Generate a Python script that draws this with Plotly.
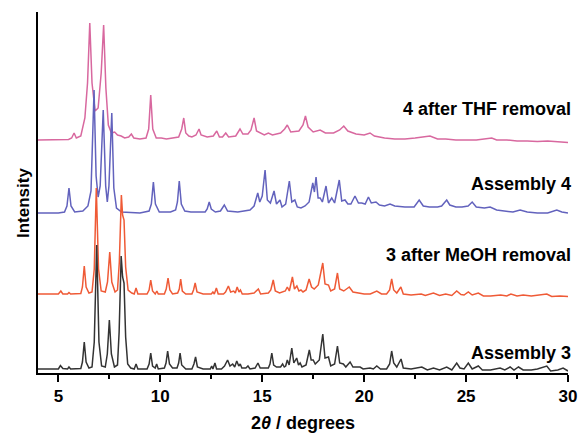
import plotly.graph_objects as go

# ---------------- data: (2theta, intensity a.u.) ----------------
assembly3 = [
    (4.0, 3), (5.0, 3), (5.1, 6.5), (5.22, 3.5), (5.45, 3), (5.52, 5), (5.6, 3),
    (6.1, 3.5), (6.18, 10), (6.27, 30), (6.36, 10), (6.5, 4),
    (6.65, 5), (6.76, 30), (6.88, 127), (6.99, 30), (7.12, 6),
    (7.3, 5), (7.4, 18), (7.5, 52), (7.6, 18), (7.75, 5),
    (7.9, 7), (7.98, 40), (8.08, 116), (8.15, 95), (8.22, 89), (8.3, 35), (8.4, 8), (8.55, 4),
    (8.72, 3), (8.81, 8), (8.9, 3),
    (9.35, 3), (9.45, 8), (9.53, 19), (9.62, 6), (9.75, 4), (9.82, 8), (9.9, 3),
    (10.2, 4), (10.28, 9), (10.36, 21), (10.45, 8), (10.6, 4),
    (10.82, 4), (10.9, 9), (10.97, 19), (11.05, 7), (11.25, 3),
    (11.55, 3), (11.65, 8), (11.73, 15), (11.82, 5), (12.1, 3),
    (12.45, 3), (12.52, 6), (12.58, 3), (12.68, 9), (12.76, 3),
    (13.0, 3), (13.15, 6), (13.3, 12), (13.42, 6), (13.55, 8), (13.65, 5), (13.75, 11),
    (13.85, 6), (13.92, 8), (14.0, 4),
    (14.2, 4), (14.3, 6), (14.4, 3), (14.65, 4), (14.79, 9), (14.9, 4),
    (15.3, 4), (15.38, 8), (15.47, 19), (15.56, 7), (15.7, 5), (15.9, 5), (16.0, 8), (16.08, 5),
    (16.15, 6), (16.23, 12), (16.32, 7), (16.45, 24), (16.55, 9), (16.69, 14), (16.78, 7),
    (16.86, 9), (16.95, 5),
    (17.15, 7), (17.31, 22), (17.4, 12), (17.5, 12), (17.6, 8), (17.8, 12), (17.97, 38),
    (18.08, 14), (18.25, 15), (18.36, 6),
    (18.55, 8), (18.69, 26), (18.8, 9), (18.98, 8), (19.1, 5), (19.31, 10), (19.45, 5),
    (19.8, 5), (19.95, 3),
    (20.29, 4), (20.45, 3), (20.62, 6), (20.8, 3), (21.1, 3), (21.25, 8), (21.35, 21),
    (21.45, 9), (21.6, 5), (21.81, 13), (21.92, 4),
    (22.3, 3), (22.83, 5), (23.1, 2), (23.4, 4), (23.7, 2), (24.05, 5), (24.3, 2),
    (24.54, 9), (24.7, 4), (24.9, 3), (25.11, 9), (25.3, 3), (25.6, 6), (25.8, 2),
    (26.2, 2), (26.67, 4), (26.9, 2), (27.16, 5), (27.35, 2), (27.57, 5), (27.8, 2),
    (28.2, 2), (28.5, 3), (28.96, 6), (29.15, 1), (29.5, 2), (29.76, 4), (30.0, 1),
]

meoh_removed3 = [
    (4.0, 3), (5.0, 3), (5.12, 6), (5.22, 3), (5.45, 3), (5.52, 4.5), (5.6, 3),
    (6.1, 3.5), (6.18, 10), (6.27, 31), (6.36, 10), (6.5, 4),
    (6.65, 5), (6.76, 28), (6.86, 109), (6.97, 28), (7.1, 6),
    (7.3, 5), (7.41, 15), (7.52, 45), (7.62, 15), (7.78, 5),
    (7.9, 7), (7.99, 35), (8.09, 102), (8.15, 82), (8.22, 77), (8.3, 30), (8.42, 7), (8.6, 4),
    (8.72, 3), (8.81, 9), (8.9, 3),
    (9.35, 3), (9.45, 7), (9.53, 17), (9.62, 6), (9.75, 3), (9.83, 6), (9.9, 3),
    (10.2, 3), (10.29, 8), (10.38, 19), (10.47, 7), (10.6, 3),
    (10.85, 4), (10.93, 8), (11.0, 18), (11.08, 6), (11.25, 3),
    (11.55, 3), (11.63, 7), (11.71, 14), (11.8, 5), (12.1, 3),
    (12.5, 3), (12.58, 5), (12.65, 3), (12.75, 9), (12.84, 3),
    (13.1, 3), (13.2, 5), (13.34, 11), (13.45, 5), (13.6, 6), (13.68, 4), (13.77, 10),
    (13.86, 5), (13.93, 7), (14.02, 3),
    (14.3, 3), (14.6, 4), (14.81, 8), (14.92, 3),
    (15.3, 4), (15.42, 7), (15.54, 17), (15.64, 6), (15.85, 4), (16.0, 5),
    (16.13, 6), (16.23, 10), (16.33, 6), (16.48, 20), (16.58, 8), (16.7, 11), (16.8, 6),
    (16.9, 7), (17.0, 5),
    (17.15, 7), (17.3, 18), (17.42, 10), (17.55, 8), (17.75, 12), (17.97, 34), (18.08, 13),
    (18.25, 12), (18.36, 6),
    (18.55, 8), (18.69, 24), (18.8, 8), (19.0, 6), (19.27, 10), (19.45, 5), (19.8, 4), (20.0, 3),
    (20.3, 3), (20.62, 6), (20.85, 3), (21.1, 3), (21.25, 7), (21.35, 18), (21.45, 7),
    (21.6, 4), (21.8, 10), (21.92, 3),
    (22.3, 2), (22.8, 3), (23.0, 1.5), (23.4, 4), (23.7, 1.5), (24.0, 3), (24.3, 1.5),
    (24.54, 6), (24.75, 2.5), (24.9, 2), (25.11, 5), (25.3, 2), (25.6, 4), (25.85, 1),
    (26.2, 1), (26.7, 2), (27.0, 1), (27.2, 3), (27.5, 1), (27.8, 2), (28.2, 1),
    (28.96, 3), (29.2, 0.5), (29.6, 1), (30.0, 0.5),
]

assembly4 = [
    (4.0, 3), (5.0, 3), (5.3, 4), (5.42, 10), (5.52, 28), (5.62, 10), (5.8, 4),
    (6.2, 5), (6.45, 10), (6.6, 25), (6.75, 126), (6.85, 40), (6.95, 19), (7.05, 30),
    (7.2, 106), (7.32, 30), (7.4, 14), (7.48, 30), (7.62, 103), (7.72, 28), (7.85, 8), (8.1, 4),
    (9.0, 3), (9.45, 5), (9.56, 12), (9.66, 34), (9.76, 12), (9.95, 4),
    (10.5, 4), (10.75, 6), (10.84, 14), (10.93, 35), (11.03, 12), (11.2, 5), (11.5, 4),
    (12.2, 4), (12.3, 7), (12.4, 14), (12.5, 7), (12.7, 4), (12.95, 5), (13.14, 11),
    (13.3, 5), (13.8, 4),
    (14.4, 6), (14.6, 10), (14.78, 23), (14.88, 14), (15.0, 20), (15.14, 46), (15.25, 16),
    (15.4, 13), (15.58, 25), (15.7, 12), (15.87, 16), (15.97, 9),
    (16.15, 12), (16.33, 35), (16.45, 14), (16.6, 16), (16.72, 9), (16.9, 8), (17.1, 10),
    (17.3, 14), (17.48, 33), (17.56, 24), (17.64, 39), (17.74, 18), (17.84, 18), (17.95, 14),
    (18.13, 30), (18.25, 13), (18.41, 18), (18.55, 13), (18.78, 36), (18.9, 15), (19.06, 16),
    (19.2, 12),
    (19.35, 12), (19.55, 20), (19.72, 13), (19.88, 13), (20.05, 12), (20.21, 19), (20.35, 13),
    (20.58, 14), (20.75, 11), (21.0, 10), (21.27, 12), (21.5, 10), (22.0, 9),
    (22.45, 9), (22.7, 16), (22.9, 10), (23.2, 9), (23.6, 9), (23.8, 10), (24.05, 16),
    (24.2, 11), (24.5, 9), (24.8, 9), (25.1, 10), (25.3, 14), (25.5, 9), (25.9, 8),
    (26.18, 9), (26.5, 6),
    (27.0, 5), (27.3, 4), (27.65, 6), (28.0, 4), (28.5, 3), (29.0, 3), (29.45, 6),
    (29.7, 4), (30.0, 3),
]

thf_removed4 = [
    (4.0, 3), (5.5, 3.5), (5.65, 5), (5.77, 10), (5.88, 5), (6.1, 7), (6.3, 25), (6.43, 60),
    (6.54, 120), (6.65, 60), (6.8, 32), (6.95, 35), (7.1, 70), (7.22, 118), (7.33, 55),
    (7.45, 18), (7.6, 10), (7.76, 11), (7.9, 8), (8.08, 7), (8.25, 5), (8.45, 6), (8.58, 9),
    (8.7, 5), (9.0, 4),
    (9.3, 5), (9.43, 14), (9.53, 48), (9.63, 14), (9.8, 5), (10.05, 5), (10.3, 4),
    (10.9, 6), (11.05, 14), (11.15, 25), (11.25, 10), (11.4, 7), (11.55, 6), (11.75, 8),
    (11.9, 14), (12.0, 8), (12.3, 6),
    (12.6, 7), (12.77, 12), (12.9, 6), (13.05, 6), (13.21, 10), (13.35, 6), (13.7, 7),
    (13.91, 14), (14.05, 9), (14.3, 9), (14.45, 13), (14.6, 25), (14.72, 12), (14.9, 10),
    (15.1, 8), (15.3, 10), (15.5, 8), (15.9, 10),
    (16.1, 14), (16.23, 18), (16.4, 11), (16.8, 12), (17.0, 18), (17.12, 27), (17.25, 16),
    (17.5, 11), (17.84, 13), (18.1, 10), (18.5, 10), (18.8, 13), (19.0, 17), (19.2, 12),
    (19.6, 9), (20.0, 8), (20.29, 10), (20.5, 7),
    (21.0, 5), (21.5, 4), (22.0, 4), (22.5, 5), (23.23, 7), (23.6, 4), (24.0, 4), (24.5, 3),
    (25.0, 3), (25.5, 3), (26.26, 5), (26.5, 3), (27.0, 3), (27.5, 2), (28.0, 2),
    (28.5, 1.5), (29.0, 2), (29.5, 1), (30.0, 0.5),
]

series_names = ["4 after THF removal", "Assembly 4", "3 after MeOH removal", "Assembly 3"]
x_ticks = [5, 10, 15, 20, 25, 30]

# ---------------- styling / stacking (not data) ----------------
stack = [
    (thf_removed4, 230, "#d8689f", 264),
    (assembly4, 157, "#6262bd", 189),
    (meoh_removed3, 76, "#ef5a36", 118),
    (assembly3, 1, "#333333", 20),
]
FONT = "Liberation Sans, Arial, sans-serif"

fig = go.Figure()
for (pts, off, col, _), name in zip(stack, series_names):
    fig.add_trace(go.Scatter(
        x=[p[0] for p in pts], y=[p[1] + off for p in pts],
        mode="lines", name=name, line=dict(color=col, width=1.5),
        showlegend=False, hoverinfo="skip",
    ))

for (_, _, _, ylab), name in zip(stack, series_names):
    fig.add_annotation(x=1.01, xref="paper", xanchor="right", y=ylab, yref="y",
                       yanchor="middle", text=name, showarrow=False,
                       font=dict(family=FONT, size=18, color="black", weight="bold"))

fig.add_annotation(x=-0.027, xref="paper", xanchor="center", y=0.47, yref="paper",
                   yanchor="middle", text="Intensity", textangle=-90, showarrow=False,
                   font=dict(family=FONT, size=17, color="black", weight="bold"))

fig.add_annotation(x=0.5, xref="paper", xanchor="center", y=-0.172, yref="paper",
                   yanchor="bottom", text="2<i>θ</i> / degrees", showarrow=False,
                   font=dict(family=FONT, size=18, color="black", weight="bold"))

fig.update_layout(
    width=580, height=437, margin=dict(l=38, r=12, t=12, b=64, autoexpand=False),
    paper_bgcolor="white", plot_bgcolor="white",
    font=dict(family=FONT, color="black"),
)
fig.update_xaxes(
    range=[4, 30], tickvals=x_ticks, ticktext=[str(v) for v in x_ticks],
    ticks="outside", ticklen=7, tickwidth=1.5, tickcolor="black",
    minor=dict(ticks="outside", ticklen=4, dtick=2.5, tick0=0, tickwidth=1.5, tickcolor="black"),
    showline=True, linecolor="black", linewidth=2, showgrid=False, zeroline=False,
    tickfont=dict(family=FONT, size=17, color="black", weight="bold"),
    automargin=False,
)
fig.update_yaxes(
    range=[0, 361], showticklabels=False, ticks="", showline=True,
    linecolor="black", linewidth=2, showgrid=False, zeroline=False, automargin=False,
)

fig.write_html("out.html")
